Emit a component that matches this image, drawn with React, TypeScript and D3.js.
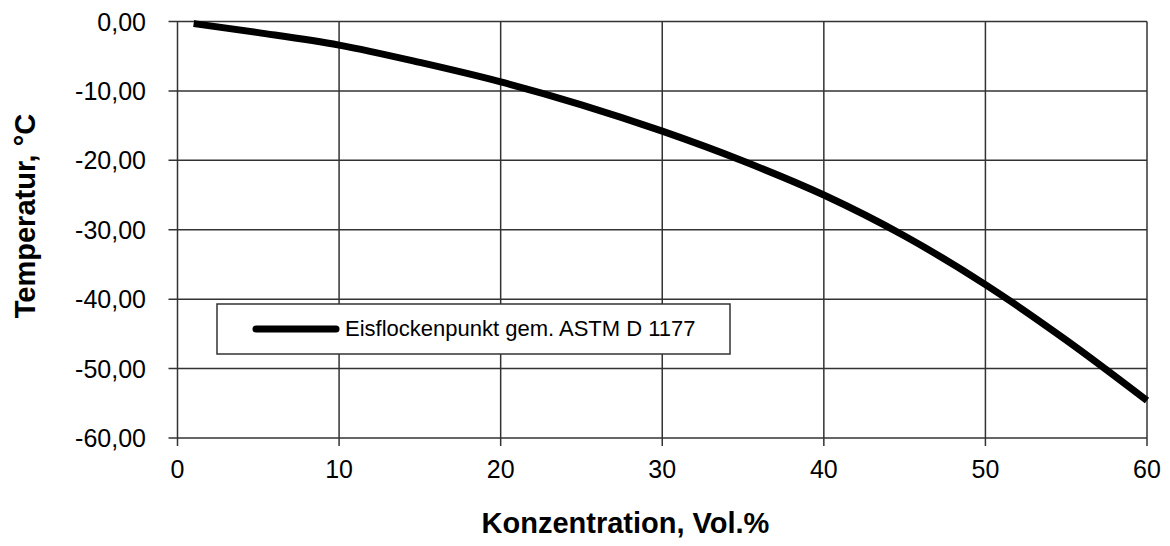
import React from "react";
import * as d3 from "d3";

const concentration = [1, 5, 10, 15, 20, 25, 30, 35, 40, 45, 50, 55, 60];
const temperature = [-0.3, -1.6, -3.4, -5.9, -8.7, -12.0, -15.8, -20.1, -25.0, -30.9, -37.9, -45.9, -54.6];
const xTicks = [0, 10, 20, 30, 40, 50, 60];
const yTicks = [0, -10, -20, -30, -40, -50, -60];
const yTickLabels = ["0,00", "-10,00", "-20,00", "-30,00", "-40,00", "-50,00", "-60,00"];
const seriesName = "Eisflockenpunkt gem. ASTM D 1177";
const xTitle = "Konzentration, Vol.%";
const yTitle = "Temperatur, °C";

const W = 1170;
const H = 546;
const FONT = "'Liberation Sans', Arial, Helvetica, sans-serif";

export default function App() {
  const x = d3.scaleLinear().domain([0, 60]).range([177.5, 1147]);
  const y = d3.scaleLinear().domain([0, -60]).range([21.5, 438]);
  const pts = concentration.map((c, i) => [c, temperature[i]] as [number, number]);
  const line = d3
    .line<[number, number]>()
    .x((d) => x(d[0]))
    .y((d) => y(d[1]))
    .curve(d3.curveMonotoneX);
  const gridColor = "#333";
  return (
    <svg
      width={W}
      height={H}
      viewBox={`0 0 ${W} ${H}`}
      style={{ position: "absolute", left: 0, top: 0, background: "#fff" }}
    >
      <rect x={0} y={0} width={W} height={H} fill="#fff" />
      {yTicks.map((t) => (
        <line
          key={"h" + t}
          x1={x(0) - 9}
          x2={x(60)}
          y1={y(t)}
          y2={y(t)}
          stroke={gridColor}
          strokeWidth={1.5}
        />
      ))}
      {xTicks.map((t) => (
        <line
          key={"v" + t}
          x1={x(t)}
          x2={x(t)}
          y1={y(0)}
          y2={y(-60) + 8}
          stroke={gridColor}
          strokeWidth={1.5}
        />
      ))}
      {yTicks.map((t, i) => (
        <text
          key={"yl" + t}
          x={146}
          y={y(t)}
          dy="0.36em"
          textAnchor="end"
          fontFamily={FONT}
          fontSize={25}
          fill="#000"
        >
          {yTickLabels[i]}
        </text>
      ))}
      {xTicks.map((t) => (
        <text
          key={"xl" + t}
          x={x(t)}
          y={478}
          textAnchor="middle"
          fontFamily={FONT}
          fontSize={25}
          fill="#000"
        >
          {t}
        </text>
      ))}
      <path d={line(pts) || ""} fill="none" stroke="#000" strokeWidth={7} strokeLinecap="butt" strokeLinejoin="round" />
      <rect x={217} y={304} width={513} height={50} fill="#fff" stroke={gridColor} strokeWidth={1.5} />
      <line x1={256} x2={336} y1={329} y2={329} stroke="#000" strokeWidth={7} strokeLinecap="round" />
      <text x={345} y={336} fontFamily={FONT} fontSize={22} fill="#000">
        {seriesName}
      </text>
      <text
        x={625.5}
        y={533}
        textAnchor="middle"
        fontFamily={FONT}
        fontSize={29}
        fontWeight="bold"
        fill="#000"
      >
        {xTitle}
      </text>
      <text
        transform={`translate(35, 216) rotate(-90)`}
        textAnchor="middle"
        fontFamily={FONT}
        fontSize={29}
        fontWeight="bold"
        fill="#000"
      >
        {yTitle}
      </text>
    </svg>
  );
}
